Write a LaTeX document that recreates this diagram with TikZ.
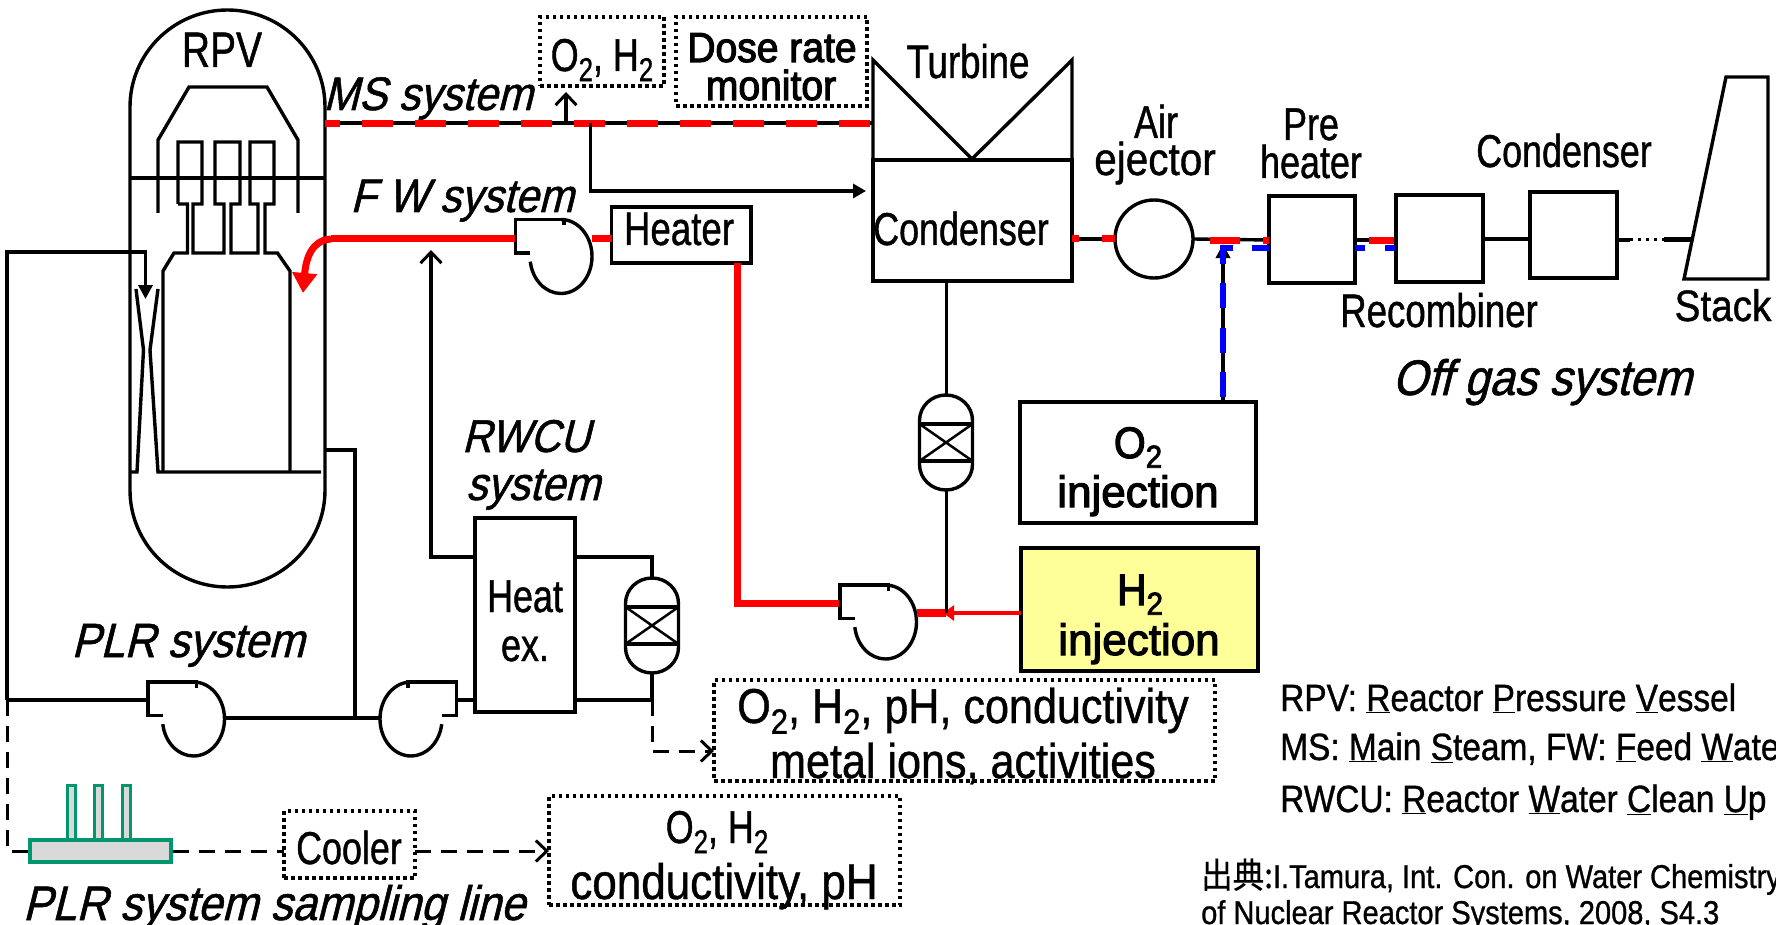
\documentclass[tikz,border=0pt]{standalone}
\usepackage{graphicx}
\usepackage{fontspec}
\usetikzlibrary{arrows.meta}
\newfontfamily\upf[FakeStretch=.78,FakeBold=.9]{Liberation Sans}
\newfontfamily\upw[FakeStretch=.88,FakeBold=.9]{Liberation Sans}
\newfontfamily\upb[FakeStretch=.93,FakeBold=2.6]{Liberation Sans}
\newfontfamily\upc[FakeStretch=1.0,FakeBold=2.6]{Liberation Sans}
\newfontfamily\itf[FakeStretch=.9,FakeSlant=.25,FakeBold=1.1]{Liberation Sans}
\newfontfamily\cjkf[FakeStretch=.9,FakeBold=.5]{Noto Sans CJK JP}
\newcommand\lowtwo{\raisebox{-.22em}{\scalebox{.72}{2}}}
\definecolor{rd}{RGB}{255,0,0}
\definecolor{bl}{RGB}{0,0,255}
\definecolor{gn}{RGB}{0,150,110}
\definecolor{gy}{RGB}{217,217,217}
\definecolor{yl}{RGB}{255,255,153}
\tikzset{
 pipe/.style={draw=black,line width=3.4pt,line join=miter},
 thin pipe/.style={draw=black,line width=3pt},
 redp/.style={draw=rd,line width=7pt},
 box/.style={draw=black,line width=3.4pt,fill=white,inner sep=0pt,outer sep=0pt},
 dotbox/.style={draw=black,line width=3.5pt,dash pattern=on 3.5pt off 3.5pt,inner sep=0pt,outer sep=0pt},
 dpipe/.style={draw=black,line width=3pt,dash pattern=on 16pt off 10pt},
 tup/.style={anchor=base,inner sep=0pt,yshift=-2pt,font=\upf\fontsize{#1}{#1}\selectfont},
 twd/.style={anchor=base,inner sep=0pt,font=\upw\fontsize{#1}{#1}\selectfont},
 tbd/.style={anchor=base,inner sep=0pt,font=\upb\fontsize{#1}{#1}\selectfont},
 tcw/.style={anchor=base,inner sep=0pt,font=\upc\fontsize{#1}{#1}\selectfont},
 tit/.style={anchor=base,inner sep=0pt,font=\itf\fontsize{#1}{#1}\selectfont},
 openarrow/.style={-{Straight Barb[length=11pt,width=21pt,line width=3pt]}},
 fillarrow/.style={-{Triangle[length=14pt,width=14pt]}},
 pumpshape/.pic={
  \draw[pipe] (-31,-3.5) -- (-45.5,-3.5) -- (-45.5,-37) -- (3,-37) -- (3,-31);
  \draw[pipe] (0,-37) arc[start angle=270,delta angle=262,x radius=31,y radius=37];
  \coordinate (-tl) at (-45.5,-17);
  \coordinate (-tr) at (31,-1);
 },
 filtershape/.pic={
  \draw[pipe] (-26.5,-22) arc[start angle=180,delta angle=180,x radius=26.5,y radius=25.5]
    -- (26.5,22) arc[start angle=0,delta angle=180,x radius=26.5,y radius=25.5] -- cycle;
  \draw[pipe] (-26.5,-18.5) rectangle (26.5,18.5);
  \draw[line width=2.5pt] (-26.5,-18.5) -- (26.5,18.5) (-26.5,18.5) -- (26.5,-18.5);
  \coordinate (-top) at (0,-47.5);
  \coordinate (-bot) at (0,47.5);
 }
}
\begin{document}
\begin{tikzpicture}[x=1pt,y=-1pt]
\useasboundingbox (0,0) rectangle (1776,925);
% ---- vessel
\draw[pipe] (130,107) arc[start angle=180,delta angle=180,x radius=97.5,y radius=97]
  -- (325,490) arc[start angle=0,delta angle=180,x radius=97.5,y radius=97] -- cycle;
\draw[pipe] (130,178) -- (325,178);
\draw[pipe] (158,213) -- (158,140) -- (189,87) -- (267,87) -- (298,140) -- (298,213);
% separators and shroud
\draw[pipe] (178,204) -- (178,142) -- (202,142) -- (202,204) -- (193,204) -- (193,253) -- (224,253) -- (224,204) -- (215,204) -- (215,142) -- (240,142) -- (240,204) -- (231,204) -- (231,253) -- (258,253) -- (258,204) -- (250,204) -- (250,142) -- (274,142) -- (274,204) -- (265,204) -- (265,253) -- (277.5,253) -- (290,271) -- (290,472);
\draw[pipe] (178,204) -- (187.5,204) -- (187.5,253) -- (174,253) -- (163,271) -- (163,472);
\draw[pipe] (130,472) -- (137,472) -- (143.5,350) -- (136,289);
\draw[pipe] (158,289) -- (150,350) -- (158,472) -- (321,472);
\coordinate (jet) at (145.5,299);
\coordinate (loopTL) at (7,252);
\coordinate (loopBL) at (7,700);
\draw[pipe,-{Triangle[length=14pt,width=14pt]}] (loopBL) -- (loopTL) -- (145.5,252) -- (jet);
% ---- labels
\node[tup=50,yshift=2pt] (t-rpv) at (222,67) {RPV};
\node[tit=47] (t-ms) at (428,110) {MS system};
\node[tit=47] (t-fw) at (462,212) {F W system};
\node[tit=46] (t-rw1) at (526,452) {RWCU};
\node[tit=47] (t-rw2) at (533,500) {system};
\node[tit=48] (t-plr) at (188,657) {PLR system};
\node[tit=48.5] (t-sam) at (274,920) {PLR system sampling line};
\node[tit=50] (t-off) at (1542,395) {Off gas system};
% ---- pumps, filters
\pic (p1) at (193.5,719) {pumpshape};
\pic[xscale=-1] (p2) at (411,719) {pumpshape};
\pic (p3) at (561,256.5) {pumpshape};
\pic (p4) at (885.5,622) {pumpshape};
\pic (f1) at (652,625.5) {filtershape};
\pic (f2) at (946,442.5) {filtershape};
% ---- boxes
\node[box,minimum width=100pt,minimum height=194pt] (hx) at (525,615) {};
\node[box,minimum width=139.4pt,minimum height=56pt] (heater) at (681.3,235) {};
\node[box,minimum width=199pt,minimum height=121pt] (cond) at (972.5,220.5) {};
\node[box,minimum width=236pt,minimum height=121pt] (o2) at (1138,462.5) {};
\node[box,fill=yl,line width=4pt,minimum width=237pt,minimum height=123pt] (h2) at (1139.5,609.5) {};
\node[box,minimum width=86pt,minimum height=87pt] (pre) at (1312,239.5) {};
\node[box,minimum width=87pt,minimum height=87pt] (rec) at (1439.5,238.5) {};
\node[box,minimum width=87pt,minimum height=86pt] (cd2) at (1573.5,235) {};
\node[box,fill=none,minimum width=0pt,minimum height=0pt,circle,minimum size=78pt] (ej) at (1154,239) {};
\draw[pipe] (873,160) -- (873,60) -- (972,159) (972,159) -- (1072,60) -- (1072,160);
\draw[pipe] (1726,77) -- (1768,77) -- (1768,279) -- (1684,279) -- cycle;
\node[dotbox,minimum width=124pt,minimum height=69pt] (b-o2) at (602,51.5) {};
\node[dotbox,minimum width=191pt,minimum height=89pt] (b-dose) at (771.5,61.5) {};
\node[dotbox,minimum width=131pt,minimum height=67pt] (b-cool) at (349.5,844.5) {};
\node[dotbox,minimum width=351pt,minimum height=109pt] (b-o2h2) at (724.5,850.5) {};
\node[dotbox,minimum width=501pt,minimum height=101pt] (b-ions) at (964.5,730.5) {};
% ---- main steam
\coordinate (msL) at (325,123);
\coordinate (msR) at (873,123);
\coordinate (msU) at (566,123);
\coordinate (msD) at (590.6,123);
\coordinate (msUT) at (566,92);
\coordinate (msC) at (590.6,191);
\coordinate (condIn) at (866,191);
\draw[pipe] (msL) -- (msR);
\draw[draw=rd,line width=7pt,dash pattern=on 31pt off 22pt,dash phase=16pt] (325,124) -- (871,124);
\draw[pipe,openarrow] (msU) -- (msUT);
\draw[pipe,-{Triangle[length=13pt,width=14pt]}] (msD) -- (msC) -- (condIn);
% ---- feedwater
\coordinate (fwA) at (331,239);
\coordinate (fwP) at (515,239);
\coordinate (fwT) at (303,293);
\draw[redp] (fwP) -- (fwA);
\draw[draw=rd,line width=7pt,-{Triangle[length=20pt,width=24pt]}] (fwA) .. controls (312,240) and (306,258) .. (fwT);
\coordinate (p3o) at (592,239);
\coordinate (heatR) at (611.6,239);
\draw[redp] (p3o) -- (heatR);
\coordinate (hB) at (737,263);
\coordinate (hC) at (737,603);
\coordinate (p4i) at (839,603);
\draw[redp] (hB) -- (hC) -- (p4i);
\coordinate (p4o) at (917,613);
\coordinate (j) at (946,613);
\draw[draw=rd,line width=8pt] (p4o) -- (j);
\draw[draw=rd,line width=4pt,-{Triangle[length=11pt,width=15pt]}] (h2.west |- j) -- (943,613);
\draw[thin pipe] (cond.south -| f2-top) -- (f2-top);
\draw[thin pipe] (f2-bot) -- (j);
% ---- RWCU and PLR
\draw[pipe] (325,450) -- (355,450) -- (355,718);
\draw[pipe] (loopBL) -- (148,700);
\draw[pipe] (224.5,718) -- (379.5,718);
\draw[pipe] (456,700) -- (hx.west |- 0,700);
\draw[pipe] (hx.east |- 0,700) -- (652,700) -- (f1-bot);
\draw[pipe] (hx.east |- 0,557) -- (652,557) -- (f1-top);
\draw[pipe,openarrow] (hx.west |- 0,557) -- (431,557) -- (431,250);
\draw[dpipe,openarrow] (652,700) -- (652,751) -- (b-ions.west |- 0,751);
% ---- sampling line
\foreach \x/\n in {71/a,98.5/b,126/c}{
 \node[draw=gn,fill=gy,line width=3pt,inner sep=0pt,minimum width=8pt,minimum height=58pt] (fin\n) at (\x,814) {};
}
\node[draw=gn,fill=gy,line width=4pt,inner sep=0pt,minimum width=141pt,minimum height=22pt] (samp) at (100,851) {};
\draw[dpipe] (loopBL) -- (7,851) -- (samp.west);
\draw[dpipe] (samp.east) -- (b-cool.west |- samp.east);
\draw[dpipe,openarrow] (b-cool.east |- samp.east) -- (b-o2h2.west |- samp.east);
% ---- condenser to stack
\draw[pipe] (cond.east |- ej) -- (ej.west);
\draw[draw=rd,line width=7pt,dash pattern=on 7pt off 23pt on 13pt off 10pt] (cond.east |- ej) -- (ej.west);
\coordinate (bj) at (1223,248);
\draw[pipe] (ej.east) -- (pre.west |- 0,240);
\draw[draw=rd,line width=7pt,dash pattern=on 30pt off 23pt,dash phase=36pt] (ej.east |- 0,240.7) -- (pre.west |- 0,240.7);
\draw[pipe] (pre.east |- 0,240) -- (rec.west |- 0,240);
\draw[draw=rd,line width=7pt,dash pattern=on 25pt off 14pt,dash phase=25pt] (pre.east |- 0,240.7) -- (rec.west |- 0,240.7);
\draw[pipe] (rec.east |- 0,239) -- (cd2.west |- 0,239);
\coordinate (stk) at (1692,240);
\draw[pipe] (cd2.east |- 0,240) -- (1630,240);
\draw[line width=3pt,dash pattern=on 3pt off 5pt] (1630,240) -- (1664,240);
\draw[line width=5pt] (1664,240) -- (stk);
\draw[pipe,fillarrow] (o2.north -| bj) -- (1223,244);
\draw[draw=bl,line width=6pt,dash pattern=on 25pt off 19.5pt,dash phase=39.5pt] (o2.north -| bj) -- (1223,245);
\draw[draw=bl,line width=6pt,dash pattern=on 11pt off 19pt on 17pt off 10pt] (1222,248) -- (pre.west |- bj);
\draw[draw=bl,line width=6pt,dash pattern=on 10pt off 20pt] (pre.east |- bj) -- (rec.west |- bj);
% ---- text
\node[tup=46] (t-o2h2a) at (602,69) {O\lowtwo, H\lowtwo};
\node[tbd=42] (t-d1) at (772,62) {Dose rate};
\node[tbd=42] (t-d2) at (771,100) {monitor};
\node[tup=47] (t-turb) at (968,76) {Turbine};
\node[tup=46] (t-air) at (1156,136) {Air};
\node[twd=46] (t-ej) at (1155,175) {ejector};
\node[tup=46] (t-pre) at (1311,138) {Pre};
\node[tup=46] (t-ht) at (1311,176) {heater};
\node[tup=46] (t-cd2) at (1564,165) {Condenser};
\node[tup=46] (t-cond) at (961,243) {Condenser};
\node[tup=47] (t-heater) at (679,243) {Heater};
\node[tup=47] (t-rec) at (1439,325) {Recombiner};
\node[twd=44] (t-stack) at (1723,321) {Stack};
\node[tup=46] (t-heat) at (525,610) {Heat};
\node[tup=46] (t-ex) at (525,659) {ex.};
\node[tup=46] (t-cool) at (349,862) {Cooler};
\node[tbd=44] (t-o2i) at (1138,458) {O\lowtwo};
\node[tcw=44] (t-inj1) at (1138,507) {injection};
\node[tbd=44] (t-h2i) at (1140,605) {H\lowtwo};
\node[tcw=44] (t-inj2) at (1139,655) {injection};
\node[twd=49] (t-ions1) at (963,723) {O\lowtwo, H\lowtwo, pH, conductivity};
\node[twd=49] (t-ions2) at (963,778) {metal ions, activities};
\node[tup=46] (t-mon1) at (717,841) {O\lowtwo, H\lowtwo};
\node[twd=50] (t-mon2) at (724,899) {conductivity, pH};
\node[twd=38,anchor=base west] (t-leg1) at (1280,711) {RPV: \underline{R}eactor \underline{P}ressure \underline{V}essel};
\node[twd=38,anchor=base west] (t-leg2) at (1280,760) {MS: \underline{M}ain \underline{S}team, FW: \underline{F}eed \underline{W}ater};
\node[twd=38,anchor=base west] (t-leg3) at (1280,812) {RWCU: \underline{R}eactor \underline{W}ater \underline{C}lean \underline{U}p};
\node[twd=33,anchor=base west] (t-src1) at (1201,888) {{\cjkf\fontsize{35}{35}\selectfont 出典:}I.Tamura, Int. Con. on Water Chemistry};
\node[twd=33,anchor=base west] (t-src2) at (1201,924) {of Nuclear Reactor Systems, 2008, S4.3};
\end{tikzpicture}
\end{document}
